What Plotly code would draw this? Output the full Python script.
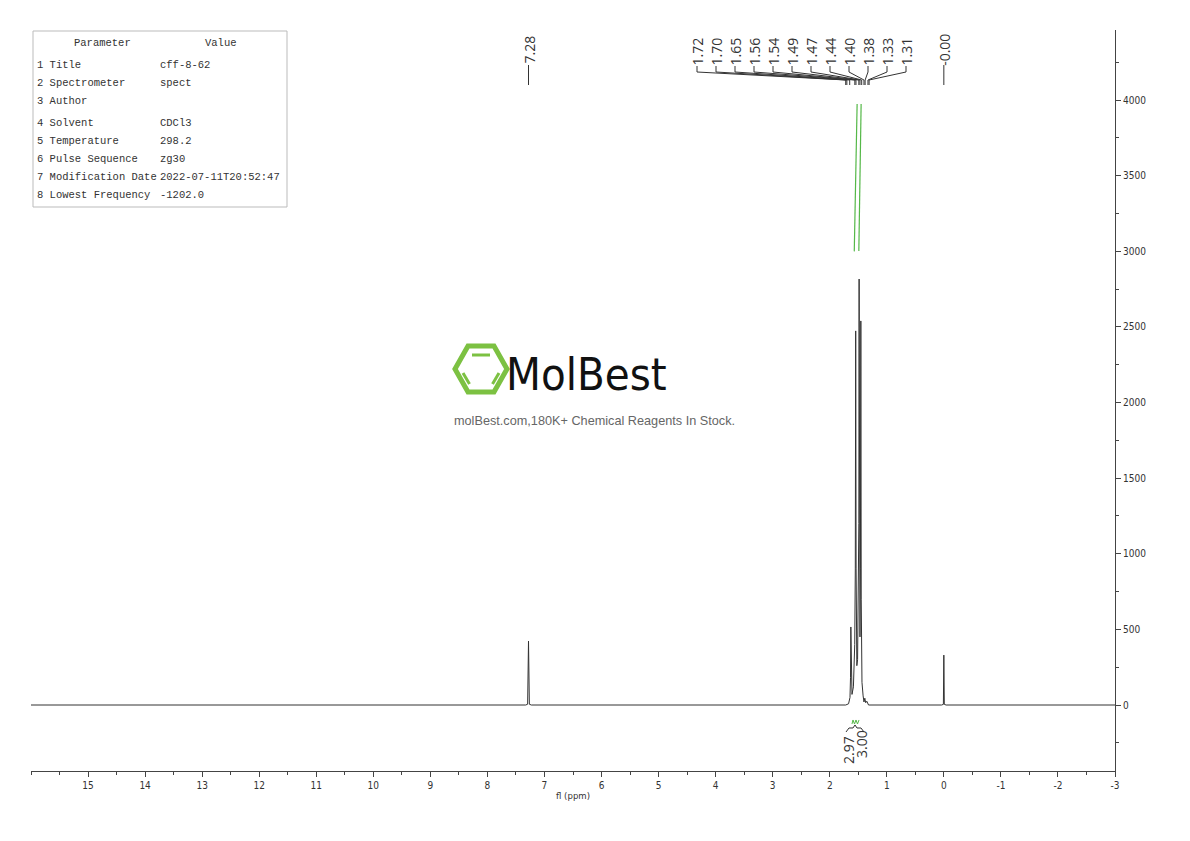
import plotly.graph_objects as go

# ---------------- data ----------------
# 1H NMR spectrum (ppm, intensity)
spec_ppm = [16.0, 7.33, 7.295, 7.28, 7.265, 7.23,
            1.72, 1.67, 1.645, 1.636, 1.630, 1.624, 1.610, 1.585, 1.562, 1.552, 1.545, 1.538,
            1.525, 1.512, 1.498, 1.490, 1.485, 1.478, 1.470, 1.462, 1.455, 1.448, 1.435,
            1.415, 1.400, 1.385, 1.370, 1.350, 1.320,
            0.04, 0.008, 0.0, -0.008, -0.04, -3.0]
spec_int = [0, 0, 5, 423, 5, 0,
            0, 8, 50, 180, 516, 180, 70, 120, 400, 900, 2474, 900,
            260, 300, 700, 1200, 2817, 1000, 450, 900, 2540, 700, 150,
            60, 20, 45, 15, 25, 0,
            0, 4, 330, 4, 0, 0]

# integral curves (ppm, value)
integ1_ppm = [1.570, 1.545, 1.520]
integ1_val = [3000, 3490, 3975]
integ2_ppm = [1.490, 1.470, 1.450]
integ2_val = [3003, 3490, 3975]
integ_labels = ["2.97", "3.00"]

# peak picking
single_peaks = [7.28, 0.00]
single_labels = ["7.28", "-0.00"]
multiplet_peaks = [1.72, 1.70, 1.65, 1.56, 1.54, 1.49, 1.47, 1.44, 1.40, 1.38, 1.33, 1.31]
multiplet_labels = ["1.72", "1.70", "1.65", "1.56", "1.54", "1.49", "1.47", "1.44",
                    "1.40", "1.38", "1.33", "1.31"]

x_tickvals = [15, 14, 13, 12, 11, 10, 9, 8, 7, 6, 5, 4, 3, 2, 1, 0, -1, -2, -3]
x_ticktext = ["15", "14", "13", "12", "11", "10", "9", "8", "7", "6", "5", "4", "3", "2", "1", "0", "-1", "-2", "-3"]
y_tickvals = [0, 500, 1000, 1500, 2000, 2500, 3000, 3500, 4000]

param_names = ["1 Title", "2 Spectrometer", "3 Author", "4 Solvent", "5 Temperature",
               "6 Pulse Sequence", "7 Modification Date", "8 Lowest Frequency"]
param_values = ["cff-8-62", "spect", "", "CDCl3", "298.2", "zg30",
                "2022-07-11T20:52:47", "-1202.0"]

# ---------------- layout helpers ----------------
OFF = 8  # page body margin
W, H = 1190 - OFF, 841 - OFF
PL, PR, PT, PB = 31, 1115, 30, 771   # plot area in screen pixels
XR = [16.0, -3.0]
YR = [-436.5, 4464]


def pyp(py):
    return (PB - py) / (PB - PT)


def pxp(px):
    return (px - PL) / (PR - PL)


def px2ppm(px):
    return XR[0] + (px - PL) / (PR - PL) * (XR[1] - XR[0])


NARROW = "DejaVu Sans Condensed, Liberation Sans Narrow, sans-serif"
LBL = "Open Sans, Noto Sans, sans-serif"
GREEN = "#55b848"
AX = "#444444"


def ann(**kw):
    d = dict(showarrow=False, xanchor="center", yanchor="middle")
    d.update(kw)
    return d


fig = go.Figure()
fig.add_trace(go.Scatter(x=spec_ppm, y=spec_int, mode="lines",
                         line=dict(color="#333333", width=1), hoverinfo="skip"))
fig.add_trace(go.Scatter(x=integ1_ppm, y=integ1_val, mode="lines",
                         line=dict(color=GREEN, width=1.2), hoverinfo="skip"))
fig.add_trace(go.Scatter(x=integ2_ppm, y=integ2_val, mode="lines",
                         line=dict(color=GREEN, width=1.2), hoverinfo="skip"))

shapes = []
annotations = []
LF = dict(family=LBL, size=14, color="#333")

# single peak labels
for p, t in zip(single_peaks, single_labels):
    shapes.append(dict(type="line", xref="x", yref="paper", x0=p, x1=p,
                       y0=pyp(65), y1=pyp(85), line=dict(color="#333", width=1)))
    annotations.append(ann(x=p, y=pyp(50), xref="x", yref="paper", text=t,
                           textangle=-90, font=LF))

# multiplet labels
lab_start = px2ppm(697)
lab_step = px2ppm(697) - px2ppm(716)
for i, (p, t) in enumerate(zip(multiplet_peaks, multiplet_labels)):
    lx = lab_start - i * lab_step
    annotations.append(ann(x=lx, y=pyp(51.5), xref="x", yref="paper", text=t,
                           textangle=-90, font=LF))
    shapes.append(dict(type="line", xref="x", yref="paper", x0=lx, x1=lx,
                       y0=pyp(66), y1=pyp(72), line=dict(color="#333", width=1)))
    shapes.append(dict(type="line", xref="x", yref="paper", x0=lx, x1=p,
                       y0=pyp(72), y1=pyp(80), line=dict(color="#333", width=1)))
    shapes.append(dict(type="line", xref="x", yref="paper", x0=p, x1=p,
                       y0=pyp(80), y1=pyp(85), line=dict(color="#333", width=1)))

# integration labels + brace
annotations.append(ann(x=px2ppm(848), y=pyp(750), xref="x", yref="paper", text=integ_labels[0],
                       textangle=-90, font=LF))
annotations.append(ann(x=px2ppm(861), y=pyp(744), xref="x", yref="paper", text=integ_labels[1],
                       textangle=-90, font=LF))


def path(pts):
    return "M " + " L ".join(f"{pxp(a):.5f},{pyp(b):.5f}" for a, b in pts)


shapes.append(dict(type="path", xref="paper", yref="paper",
                   path=path([(846, 732), (849, 728), (853, 728), (855, 725), (857, 728),
                              (861, 728), (864, 732)]),
                   line=dict(color="#333", width=1)))
shapes.append(dict(type="path", xref="paper", yref="paper",
                   path=path([(852, 724), (853, 720), (854.5, 724), (856, 720), (857.5, 724),
                              (859, 720)]),
                   line=dict(color=GREEN, width=1)))

# parameter table
shapes.append(dict(type="rect", xref="paper", yref="paper", x0=pxp(33), x1=pxp(287),
                   y0=pyp(207), y1=pyp(31), line=dict(color="#bbbbbb", width=1)))
TF = dict(family="Liberation Mono, DejaVu Sans Mono, monospace", size=10.5, color="#333")
annotations.append(ann(x=pxp(102), y=pyp(43), xref="paper", yref="paper", text="Parameter", font=TF))
annotations.append(ann(x=pxp(221), y=pyp(43), xref="paper", yref="paper", text="Value", font=TF))
row_y = [65, 83, 101, 123, 141, 159, 177, 195]
for ry, n, v in zip(row_y, param_names, param_values):
    annotations.append(ann(x=pxp(35), y=pyp(ry), xref="paper", yref="paper", text=n,
                           xanchor="left", font=TF))
    if v:
        annotations.append(ann(x=pxp(158), y=pyp(ry), xref="paper", yref="paper", text=v,
                               xanchor="left", font=TF))

# logo
hexpts = [(455, 369), (468, 346), (494, 346), (507, 369), (494, 392), (468, 392), (455, 369)]
shapes.append(dict(type="path", xref="paper", yref="paper", path=path(hexpts) + " Z",
                   line=dict(color="#7cc142", width=5)))
for a, b in [((472, 355), (490, 355)), ((463, 373), (469.5, 384)), ((499, 373), (492.5, 384))]:
    shapes.append(dict(type="line", xref="paper", yref="paper", x0=pxp(a[0]), y0=pyp(a[1]),
                       x1=pxp(b[0]), y1=pyp(b[1]), line=dict(color="#7cc142", width=3)))
annotations.append(ann(x=pxp(586), y=pyp(374), xref="paper", yref="paper", text="MolBest",
                       font=dict(family=NARROW, size=45, color="#111")))
annotations.append(ann(x=pxp(594), y=pyp(421), xref="paper", yref="paper",
                       text="molBest.com,180K+ Chemical Reagents In Stock.",
                       font=dict(family="Liberation Sans, Arial, sans-serif", size=12.7, color="#666")))

fig.update_layout(
    width=W, height=H,
    margin=dict(l=PL - OFF, r=W - (PR - OFF), t=PT - OFF, b=H - (PB - OFF)),
    plot_bgcolor="white", paper_bgcolor="white", showlegend=False,
    shapes=shapes, annotations=annotations,
    xaxis=dict(range=XR, showline=True, linecolor=AX, linewidth=1, ticks="outside",
               ticklen=5, tickcolor=AX, tickvals=x_tickvals, ticktext=x_ticktext,
               tickfont=dict(family=NARROW, size=10, color="#333"),
               minor=dict(ticks="outside", ticklen=3, dtick=0.5, tick0=0, tickcolor=AX),
               showgrid=False, zeroline=False,
               title=dict(text="fl (ppm)", font=dict(family=NARROW, size=9.5, color="#333"),
                          standoff=2)),
    yaxis=dict(range=YR, side="right", showline=True, linecolor=AX, linewidth=1,
               ticks="outside", ticklen=5, tickcolor=AX, tickvals=y_tickvals,
               tickfont=dict(family=NARROW, size=10, color="#333"),
               minor=dict(ticks="outside", ticklen=3, dtick=250, tick0=0, tickcolor=AX),
               showgrid=False, zeroline=False),
)

fig.write_html("out.html")
